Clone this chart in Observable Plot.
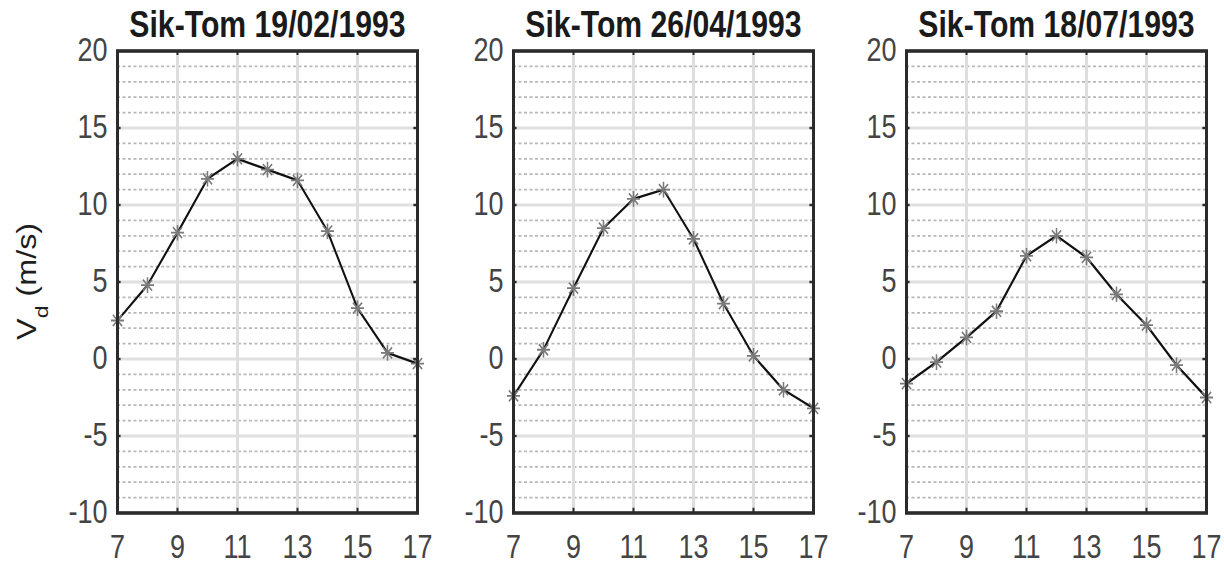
<!DOCTYPE html>
<html>
<head>
<meta charset="utf-8">
<script src="https://cdn.jsdelivr.net/npm/d3@7"></script>
<script src="https://cdn.jsdelivr.net/npm/@observablehq/plot@0.6"></script>
<style>
  html, body { margin: 0; padding: 0; background: #fff; }
  #root { position: relative; width: 1224px; height: 565px; overflow: hidden; background: #fff; }
  .panel { position: absolute; top: 0; transform-origin: 0 0; }
  .panel svg { max-width: none !important; overflow: visible; }
</style>
</head>
<body>
<div id="root"></div>
<script>
// ---- data ----
const hours = [7, 8, 9, 10, 11, 12, 13, 14, 15, 16, 17];
const vd19Feb = [2.5, 4.8, 8.2, 11.7, 13.0, 12.3, 11.6, 8.3, 3.3, 0.4, -0.3];
const vd26Apr = [-2.4, 0.6, 4.6, 8.5, 10.4, 11.0, 7.8, 3.6, 0.2, -2.0, -3.2];
const vd18Jul = [-1.6, -0.2, 1.4, 3.1, 6.7, 8.0, 6.6, 4.2, 2.2, -0.4, -2.5];
const titles = ["Sik-Tom 19/02/1993", "Sik-Tom 26/04/1993", "Sik-Tom 18/07/1993"];
const xTicks = [7, 9, 11, 13, 15, 17];
const yTicks = [-10, -5, 0, 5, 10, 15, 20];
const yLabelMain = "V";
const yLabelSub = "d";
const yLabelUnit = " (m/s)";

// ---- layout ----
const S = 1.2;            // vertical stretch of the reference image
const H = 471;            // internal svg height (565 / S)
const MT = 42, MB = 44;
const FONT = "'Liberation Sans', Arial, Helvetica, sans-serif";
const series = [vd19Feb, vd26Apr, vd18Jul];
const panels = [
  {left: 0,   width: 437, ml: 117, mr: 20},
  {left: 437, width: 396, ml: 76,  mr: 20},
  {left: 830, width: 394, ml: 76,  mr: 18}
];

const [x0, x1] = d3.extent(xTicks);
const [y0, y1] = d3.extent(yTicks);
const yMinor = d3.range(y0 + 1, y1).filter(v => !yTicks.includes(v));
const xInner = xTicks.filter(v => v > x0 && v < x1);
const yInner = yTicks.filter(v => v > y0 && v < y1);

// MATLAB-like '*' marker: plus and cross combined
const star = {
  draw(context, size) {
    const r = Math.sqrt(size / Math.PI);
    const d = r * Math.SQRT1_2;
    context.moveTo(-r, 0); context.lineTo(r, 0);
    context.moveTo(0, -r); context.lineTo(0, r);
    context.moveTo(-d, -d); context.lineTo(d, d);
    context.moveTo(-d, d); context.lineTo(d, -d);
  }
};

const root = document.getElementById("root");

series.forEach((values, i) => {
  const p = panels[i];
  const data = hours.map((h, k) => ({h, v: values[k]}));
  const plot = Plot.plot({
    width: p.width,
    height: H,
    marginLeft: p.ml,
    marginRight: p.mr,
    marginTop: MT,
    marginBottom: MB,
    style: {fontFamily: FONT, fontSize: "27px", color: "#444", background: "transparent", overflow: "visible"},
    x: {domain: [x0, x1], ticks: xTicks, tickSize: 0, tickPadding: 18, tickFormat: d => String(d), label: null},
    y: {domain: [y0, y1], ticks: yTicks, tickSize: 0, tickPadding: 10, tickFormat: d => String(d), label: null},
    marks: [
      Plot.ruleY(yMinor, {y: d => d, stroke: "#b8b8b8", strokeWidth: 1.4, strokeDasharray: "3,2.5"}),
      Plot.ruleY(yInner, {y: d => d, stroke: "#e0e0e0", strokeWidth: 2.5}),
      Plot.ruleX(xInner, {x: d => d, stroke: "#dedede", strokeWidth: 3}),
      Plot.line(data, {x: "h", y: "v", stroke: "#111", strokeWidth: 2}),
      Plot.dot(data, {x: "h", y: "v", symbol: star, r: 6.5, stroke: "#7a7a7a", strokeWidth: 1.5, fill: "none"}),
      Plot.ruleX(xInner, {x: d => d, y1: y0, y2: y0 + 0.3, stroke: "#2b2b2b", strokeWidth: 2}),
      Plot.ruleX(xInner, {x: d => d, y1: y1, y2: y1 - 0.3, stroke: "#2b2b2b", strokeWidth: 2}),
      Plot.ruleY(yInner, {y: d => d, x1: x0, x2: x0 + 0.12, stroke: "#2b2b2b", strokeWidth: 2}),
      Plot.ruleY(yInner, {y: d => d, x1: x1, x2: x1 - 0.12, stroke: "#2b2b2b", strokeWidth: 2}),
      Plot.frame({stroke: "#2b2b2b", strokeWidth: 3}),
      Plot.text([titles[i]], {text: d => d, frameAnchor: "top", dy: -21, lineAnchor: "middle",
        fontWeight: "bold", fontSize: 30.2, fill: "#1a1a1a"})
    ]
  });

  if (i === 0) {
    const innerH = H - MT - MB;
    const t = d3.select(plot).append("text")
      .attr("transform", `translate(36,${MT + innerH / 2}) rotate(-90)`)
      .attr("text-anchor", "middle")
      .attr("font-family", FONT)
      .attr("font-size", 27)
      .attr("fill", "#1e1e1e")
      .style("white-space", "pre");
    t.append("tspan").text(yLabelMain);
    t.append("tspan").attr("font-size", 19).attr("dy", 12).text(yLabelSub);
    t.append("tspan").attr("dy", -12).text(yLabelUnit);
  }

  const div = document.createElement("div");
  div.className = "panel";
  div.style.left = p.left + "px";
  div.style.width = p.width + "px";
  div.style.height = H + "px";
  div.style.transform = `scaleY(${S})`;
  div.appendChild(plot);
  root.appendChild(div);
});
</script>
</body>
</html>
